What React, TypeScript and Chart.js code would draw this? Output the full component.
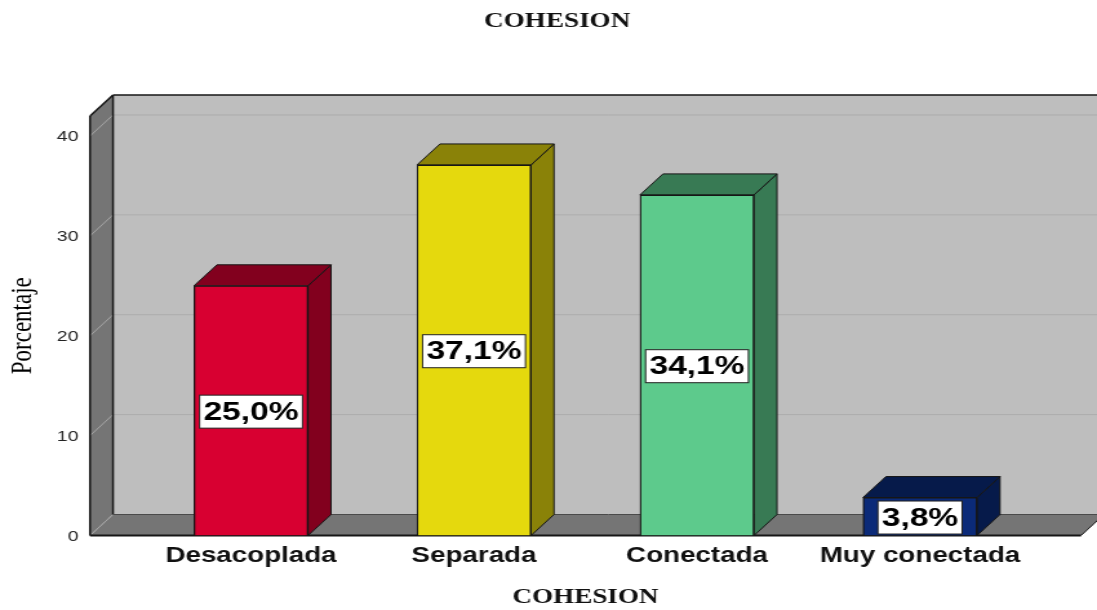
import React, { useEffect, useRef } from "react";
import { Chart, registerables } from "chart.js";

Chart.register(...registerables);

const categories = ["Desacoplada", "Separada", "Conectada", "Muy conectada"];
const percentages = [25.0, 37.1, 34.1, 3.8];
const frontColors = ["#d80031", "#e5d90d", "#5dca8c", "#0b2a78"];
const sideColors = ["#82001e", "#8a8208", "#387a54", "#061a4a"];
const topColors = ["#82001e", "#8a8208", "#387a54", "#061a4a"];
const yTicksMax = 42;
const chartTitle = "COHESION";
const xTitle = "COHESION";
const yTitle = "Porcentaje";

const STRETCH = 1097 / 850;
const px = (v: number) => v / STRETCH;
const DX = px(23);
const DY = 21;
const PAD_LEFT = 25.8;
const WALL = "#757575";
const BACK = "#bebebe";
const EDGE = "#161616";

function poly(ctx: CanvasRenderingContext2D, pts: number[][], fill: string, stroke?: string, lw = 1) {
  ctx.beginPath();
  pts.forEach((p, i) => (i ? ctx.lineTo(p[0], p[1]) : ctx.moveTo(p[0], p[1])));
  ctx.closePath();
  ctx.fillStyle = fill;
  ctx.fill();
  if (stroke) {
    ctx.strokeStyle = stroke;
    ctx.lineWidth = lw;
    ctx.stroke();
  }
}

function line(ctx: CanvasRenderingContext2D, x1: number, y1: number, x2: number, y2: number, c: string, lw = 1) {
  ctx.beginPath();
  ctx.moveTo(x1, y1);
  ctx.lineTo(x2, y2);
  ctx.strokeStyle = c;
  ctx.lineWidth = lw;
  ctx.stroke();
}

const box3d = {
  id: "box3d",
  beforeDatasetsDraw(chart: any) {
    const { ctx, chartArea: a, scales } = chart;
    const { left: l, right: r, top: t, bottom: b } = a;
    ctx.save();
    poly(ctx, [[l + DX, t - DY], [r + DX, t - DY], [r + DX, b - DY], [l + DX, b - DY]], BACK);
    poly(ctx, [[l, t], [l + DX, t - DY], [l + DX, b - DY], [l, b]], WALL);
    poly(ctx, [[l, b], [l + DX, b - DY], [r + DX, b - DY], [r, b]], WALL);
    scales.y.ticks.forEach((tk: any) => {
      const y = scales.y.getPixelForValue(tk.value);
      if (tk.value > 0) line(ctx, l + DX, y - DY, r + DX, y - DY, "#adadad", 1);
      line(ctx, l, y, l + DX, y - DY, "#a6a6a6", 1);
    });
    line(ctx, l + DX, t - DY, r + DX, t - DY, EDGE, 1.5);
    line(ctx, l + DX, t - DY, l + DX, b - DY, EDGE, 1.5);
    line(ctx, l, t, l, b, EDGE, 1.5);
    line(ctx, l, t, l + DX, t - DY, EDGE, 1.5);
    line(ctx, l, b, r, b, EDGE, 2);
    line(ctx, r, b, r + DX, b - DY, EDGE, 1);
    line(ctx, l + DX, b - DY, r + DX, b - DY, "#4a4a4a", 1);

    const base = scales.y.getPixelForValue(0);
    chart.getDatasetMeta(0).data.forEach((bar: any, i: number) => {
      const x0 = bar.x - bar.width / 2;
      const x1 = bar.x + bar.width / 2;
      const y = bar.y;
      poly(ctx, [[x1, y], [x1 + DX, y - DY], [x1 + DX, base - DY], [x1, base]], sideColors[i], EDGE, 1);
      poly(ctx, [[x0, y], [x0 + DX, y - DY], [x1 + DX, y - DY], [x1, y]], topColors[i], EDGE, 1);
    });
    ctx.restore();
  },
  afterDatasetsDraw(chart: any) {
    const { ctx } = chart;
    ctx.save();
    ctx.font = "bold 26px 'Liberation Sans', Arial, sans-serif";
    ctx.textAlign = "center";
    ctx.textBaseline = "middle";
    const base = chart.scales.y.getPixelForValue(0);
    chart.getDatasetMeta(0).data.forEach((bar: any, i: number) => {
      const text = percentages[i].toFixed(1).replace(".", ",") + "%";
      const w = ctx.measureText(text).width + 6;
      const h = 33;
      const cy = (bar.y + base) / 2 + 1;
      ctx.fillStyle = "#ffffff";
      ctx.fillRect(bar.x - w / 2, cy - h / 2, w, h);
      ctx.strokeStyle = "#222222";
      ctx.lineWidth = 1;
      ctx.strokeRect(bar.x - w / 2, cy - h / 2, w, h);
      ctx.fillStyle = "#000000";
      ctx.fillText(text, bar.x, cy + 1);
    });
    ctx.restore();
  },
};

export default function App() {
  const ref = useRef<HTMLCanvasElement | null>(null);
  useEffect(() => {
    if (!ref.current) return;
    const chart = new Chart(ref.current, {
      type: "bar",
      data: {
        datasets: [
          {
            label: yTitle,
            data: percentages.map((v, i) => ({ x: i, y: v })),
            backgroundColor: frontColors,
            borderColor: EDGE,
            borderWidth: 1.3,
            barThickness: px(114),
          },
        ],
      },
      options: {
        animation: false,
        responsive: false,
        devicePixelRatio: 1,
        layout: { padding: { left: PAD_LEFT, top: 0, bottom: 0, right: 864 - px(1081) } },
        plugins: {
          legend: { display: false },
          tooltip: { enabled: false },
          title: {
            display: true,
            text: chartTitle,
            color: "#111111",
            font: { family: "'Liberation Serif', serif", size: 21, weight: "bold" },
            padding: { top: 9, bottom: 81.8 },
          },
        },
        scales: {
          x: {
            type: "linear",
            offset: false,
            min: -0.722,
            max: 3.722,
            grid: { display: false, offset: false },
            border: { display: false },
            afterBuildTicks: (s: any) => {
              s.ticks = categories.map((_, i) => ({ value: i }));
            },
            afterFit: (s: any) => {
              s.height = 74.5;
            },
            ticks: {
              autoSkip: false,
              maxRotation: 0,
              padding: 0,
              color: "#111111",
              font: { family: "'Liberation Sans', Arial, sans-serif", size: 21.5, weight: "bold" },
              callback: (v: any) => categories[v],
            },
            title: {
              display: true,
              text: xTitle,
              color: "#111111",
              padding: { top: 0, bottom: 0 },
              font: { family: "'Liberation Serif', serif", size: 21, weight: "bold" },
            },
          },
          y: {
            min: 0,
            max: yTicksMax,
            grid: { display: false },
            border: { display: false },
            afterFit: (s: any) => {
              s.width = px(90) - PAD_LEFT;
              const compute = s._computeLabelItems;
              s._computeLabelItems = (c: any) => {
                const items = compute.call(s, c);
                items.forEach((it: any) => {
                  it.textOffset += 0.5;
                });
                return items;
              };
            },
            ticks: {
              stepSize: 10,
              includeBounds: false,
              padding: 1,
              color: "#222222",
              font: { family: "'Liberation Sans', Arial, sans-serif", size: 15 },
            },
            title: {
              display: true,
              text: yTitle,
              color: "#000000",
              padding: { top: -22, bottom: 0 },
              font: { family: "'Liberation Serif', serif", size: 23 },
            },
          },
        },
      },
      plugins: [box3d],
    } as any);
    return () => chart.destroy();
  }, []);

  return (
    <div style={{ position: "absolute", left: 0, top: 0, width: 1097, height: 610, overflow: "hidden", background: "#fff" }}>
      <div style={{ transform: `scaleX(${STRETCH})`, transformOrigin: "0 0", width: 864, height: 610 }}>
        <canvas ref={ref} width={864} height={610} style={{ display: "block" }} />
      </div>
    </div>
  );
}
